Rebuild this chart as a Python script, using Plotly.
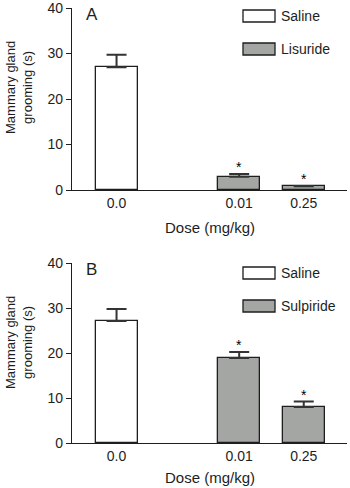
import plotly.graph_objects as go

# ---- data ----
doses = ["0.0", "0.01", "0.25"]
drugs = ["Lisuride", "Sulpiride"]
panels = ["A", "B"]
lisuride_mean = [27.0, 2.9, 0.8]
lisuride_sem = [2.7, 0.6, 0.1]
sulpiride_mean = [27.1, 18.9, 8.0]
sulpiride_sem = [2.7, 1.3, 1.2]
significant = [False, True, True]
y_ticks = [0, 10, 20, 30, 40]
x_title = "Dose (mg/kg)"
y_title = "Mammary gland<br>grooming (s)"
legend_saline = "Saline"

means = [lisuride_mean, sulpiride_mean]
sems = [lisuride_sem, sulpiride_sem]

# ---- layout constants ----
W, H = 350, 488
FONT = "Liberation Sans, Arial, sans-serif"
INK = "#1e1e1e"
GRAY = "#a3a6a3"
x_pos = [0, 1.9, 2.9]
bar_w = 0.65
x_range = [-0.69, 3.57]
plot_left, plot_right = 72, 347
panel_px = [(8, 190), (263, 443)]
xtitle_off = [37, 34]


def px(x):
    return x / W


def py(y):
    return 1 - y / H


fig = go.Figure()
annotations = []
shapes = []

for i in range(2):
    xa = "x" if i == 0 else "x2"
    ya = "y" if i == 0 else "y2"
    colors = ["white", GRAY, GRAY]
    fig.add_trace(go.Bar(
        x=x_pos, y=means[i], width=bar_w,
        marker=dict(color=colors, line=dict(color=INK, width=1.3)),
        error_y=dict(type="data", array=sems[i], arrayminus=[0, 0, 0],
                     symmetric=False, color="#333333", thickness=2, width=10),
        xaxis=xa, yaxis=ya, showlegend=False, hoverinfo="skip",
    ))
    # significance stars
    for j in range(3):
        if significant[j]:
            annotations.append(dict(
                x=x_pos[j], y=means[i][j] + sems[i][j], xref=xa, yref=ya,
                text="*", showarrow=False, yanchor="bottom", yshift=-3,
                font=dict(family=FONT, size=14, color="black")))

    top, bot = panel_px[i]
    axis_common = dict(showline=True, linecolor=INK, linewidth=1.3,
                       showgrid=False, zeroline=False, automargin=False,
                       ticklabeloverflow="allow",
                       tickfont=dict(family=FONT, size=14, color=INK))
    xaxis = dict(domain=[px(plot_left), px(plot_right)], range=x_range,
                 tickvals=x_pos, ticktext=doses, ticks="", anchor=ya,
                 fixedrange=True, **axis_common)
    yaxis = dict(domain=[py(bot), py(top)], range=[0, 40], tickvals=y_ticks,
                 ticks="outside", ticklen=5, tickwidth=1.3, tickcolor=INK,
                 anchor=xa, fixedrange=True, **axis_common)
    if i == 0:
        fig.update_layout(xaxis=xaxis, yaxis=yaxis)
    else:
        fig.update_layout(xaxis2=xaxis, yaxis2=yaxis)

    # axis titles
    annotations.append(dict(x=px((plot_left + plot_right) / 2),
                            y=py(bot + xtitle_off[i]),
                            xref="paper", yref="paper", text=x_title, showarrow=False,
                            xanchor="center", yanchor="middle", borderpad=0,
                            font=dict(family=FONT, size=15, color=INK)))
    annotations.append(dict(x=px(19), y=py(top + 80), xref="paper", yref="paper",
                            text=y_title, showarrow=False, textangle=-90,
                            xanchor="center", yanchor="middle",
                            font=dict(family=FONT, size=13, color=INK)))
    # panel letter
    annotations.append(dict(x=px(84), y=py(top + 6.5), xref="paper", yref="paper",
                            text=panels[i], showarrow=False, xanchor="left",
                            yanchor="middle",
                            font=dict(family=FONT, size=17, color=INK)))
    # legend
    leg_items = [(legend_saline, "white", 1), (drugs[i], GRAY, 34)]
    for label, col, off in leg_items:
        y0 = top + off + (1 if i == 0 else 3)
        shapes.append(dict(type="rect", xref="paper", yref="paper",
                           x0=px(243), x1=px(275), y0=py(y0), y1=py(y0 + 12),
                           fillcolor=col, line=dict(color=INK, width=1.3)))
        annotations.append(dict(x=px(279), y=py(y0 + 6), xref="paper", yref="paper",
                                text=label, showarrow=False, xanchor="left",
                                yanchor="middle",
                                font=dict(family=FONT, size=14, color=INK)))

fig.update_layout(
    width=W, height=H, margin=dict(l=0, r=0, t=0, b=0),
    paper_bgcolor="white", plot_bgcolor="white",
    annotations=annotations, shapes=shapes, bargap=0,
)

fig.write_html("out.html", config={"displayModeBar": False},
               post_script="document.body.style.margin='0';document.body.style.overflow='hidden';")
